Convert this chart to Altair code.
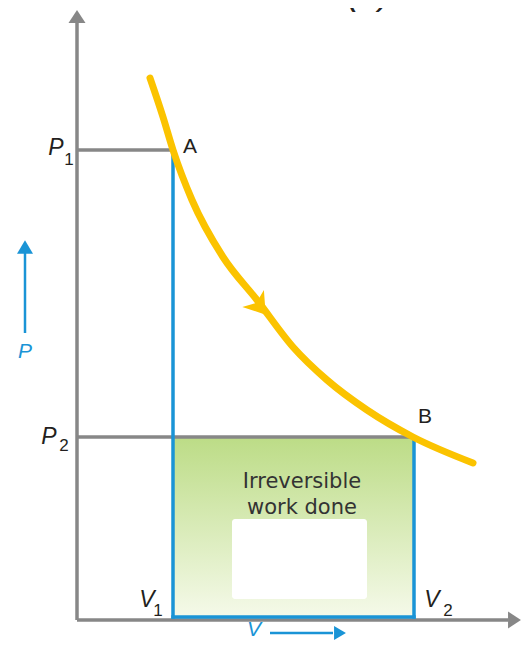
import altair as alt
import pandas as pd

# ---- data (units: arbitrary V and P, origin at axis corner) ----
V1, V2 = 9.6, 33.7
P1, P2 = 47.0, 18.3

curve_V = [7.3, 8.6, 9.6, 11.5, 14.6, 18.0, 21.6, 25.0, 29.0, 33.6, 39.6]
curve_P = [54.2, 50.3, 47.0, 42.0, 36.3, 32.0, 27.3, 24.0, 21.0, 18.3, 15.7]

W, H = 513, 633
XDOM = [-6.9, 44.4]
YDOM = [-2.1, 61.2]

xs = alt.Scale(domain=XDOM, nice=False, zero=False)
ys = alt.Scale(domain=YDOM, nice=False, zero=False)

GRAY = "#878787"
BLUE = "#1a94d6"
YELLOW = "#fbc300"
DARK = "#231f20"
FONT = "Liberation Sans"


def X(f="x"):
    return alt.X(f"{f}:Q", scale=xs, axis=None)


def Y(f="y"):
    return alt.Y(f"{f}:Q", scale=ys, axis=None)


# green work area
area_df = pd.DataFrame({"x": [V1], "x2": [V2], "y": [P2], "y2": [0.0]})
grad = alt.Gradient(
    gradient="linear",
    stops=[alt.GradientStop(color="#bcdc86", offset=0),
           alt.GradientStop(color="#f6faeb", offset=1)],
    x1=0, x2=0, y1=0, y2=1,
)
green = alt.Chart(area_df).mark_rect(color=grad).encode(
    x=X(), x2="x2:Q", y=Y(), y2="y2:Q")

# white box inside
box_df = pd.DataFrame({"x": [15.5], "x2": [29.0], "y": [10.1], "y2": [2.1]})
white = alt.Chart(box_df).mark_rect(color="white", cornerRadius=3).encode(
    x=X(), x2="x2:Q", y=Y(), y2="y2:Q")

# gray axes and guide lines
gray_df = pd.DataFrame({
    "x": [0.0, 0.0, 0.0, 0.0],
    "x2": [0.0, 43.1, V1, V2],
    "y": [0.0, 0.0, P1, P2],
    "y2": [59.7, 0.0, P1, P2],
})
gray = alt.Chart(gray_df).mark_rule(color=GRAY, strokeWidth=3.5).encode(
    x=X(), x2="x2:Q", y=Y(), y2="y2:Q")

# blue boundary
blue_df = pd.DataFrame({
    "x": [V1, V2, V1],
    "x2": [V1, V2, V2],
    "y": [P1, P2, 0.3],
    "y2": [0.3, 0.3, 0.3],
})
blue = alt.Chart(blue_df).mark_rule(color=BLUE, strokeWidth=3.5, strokeCap="square").encode(
    x=X(), x2="x2:Q", y=Y(), y2="y2:Q")

# yellow isotherm curve
curve_df = pd.DataFrame({"x": curve_V, "y": curve_P})
curve = alt.Chart(curve_df).mark_line(
    color=YELLOW, strokeWidth=7, interpolate="monotone", strokeCap="round"
).encode(x=X(), y=Y())

# arrowheads
UP = "M0,-0.76L1,0.76L-1,0.76Z"
arr_gray_df = pd.DataFrame({"x": [0.0, 43.75], "y": [60.35, 0.0], "a": [0, 90]})
arr_gray = alt.Chart(arr_gray_df).mark_point(
    shape=UP, filled=True, opacity=1, color=GRAY, size=289, strokeWidth=0
).encode(x=X(), y=Y(), angle=alt.Angle("a:Q", scale=None))

# blue P / V direction arrows
blue_line_df = pd.DataFrame({
    "x": [-5.2, 19.3], "x2": [-5.2, 25.6],
    "y": [28.7, -1.3], "y2": [36.7, -1.3],
})
blue_lines = alt.Chart(blue_line_df).mark_rule(color=BLUE, strokeWidth=2.5).encode(
    x=X(), x2="x2:Q", y=Y(), y2="y2:Q")
arr_blue_df = pd.DataFrame({"x": [-5.2, 26.3], "y": [37.3, -1.3],
                            "a": [0, 90], "s": [256, 196]})
arr_blue = alt.Chart(arr_blue_df).mark_point(
    shape="M0,-0.85L1,0.85L-1,0.85Z", filled=True, opacity=1, color=BLUE, strokeWidth=0
).encode(x=X(), y=Y(), angle=alt.Angle("a:Q", scale=None),
         size=alt.Size("s:Q", scale=None))

# arrowhead on curve
arr_y_df = pd.DataFrame({"x": [18.2], "y": [31.4], "a": [142]})
arr_y = alt.Chart(arr_y_df).mark_point(
    shape="M0,-0.8L1,0.7L0,0.3L-1,0.7Z", filled=True, opacity=1, color=YELLOW,
    size=750, strokeWidth=0
).encode(x=X(), y=Y(), angle=alt.Angle("a:Q", scale=None))

# text labels
main_lab = pd.DataFrame({
    "x": [-2.1, -2.8, 7.0, 35.5],
    "y": [47.2, 18.3, 2.0, 2.0],
    "t": ["P", "P", "V", "V"],
})
main_txt = alt.Chart(main_lab).mark_text(
    font=FONT, fontSize=23, fontStyle="italic", color=DARK, baseline="middle", align="center"
).encode(x=X(), y=Y(), text="t:N")

sub_lab = pd.DataFrame({
    "x": [-0.8, -1.3, 8.1, 37.1],
    "y": [46.0, 17.4, 0.9, 0.9],
    "t": ["1", "2", "1", "2"],
})
sub_txt = alt.Chart(sub_lab).mark_text(
    font=FONT, fontSize=17, color=DARK, baseline="middle", align="center"
).encode(x=X(), y=Y(), text="t:N")

pt_lab = pd.DataFrame({"x": [11.3, 34.8], "y": [47.3, 20.3], "t": ["A", "B"]})
pt_txt = alt.Chart(pt_lab).mark_text(
    font=FONT, fontSize=21, color=DARK, baseline="middle", align="center"
).encode(x=X(), y=Y(), text="t:N")

dir_lab = pd.DataFrame({"x": [-5.2, 17.7], "y": [26.8, -0.95], "t": ["P", "V"]})
dir_txt = alt.Chart(dir_lab).mark_text(
    font=FONT, fontSize=21, fontStyle="italic", color=BLUE, baseline="middle", align="center"
).encode(x=X(), y=Y(), text="t:N")

work_lab = pd.DataFrame({"x": [22.5, 22.5], "y": [13.8, 11.2],
                         "t": ["Irreversible", "work done"]})
work_txt = alt.Chart(work_lab).mark_text(
    font="DejaVu Sans", fontSize=21, color="#333333", baseline="middle", align="center"
).encode(x=X(), y=Y(), text="t:N")

title_lab = pd.DataFrame({"x": [29.2], "y": [60.8], "t": ["(a)"]})
title_txt = alt.Chart(title_lab).mark_text(
    font=FONT, fontSize=36, fontStyle="italic", color=DARK, baseline="bottom", align="center"
).encode(x=X(), y=Y(), text="t:N")

chart = alt.layer(
    green, white, gray, blue, curve, arr_gray, blue_lines, arr_blue, arr_y,
    main_txt, sub_txt, pt_txt, dir_txt, work_txt, title_txt
).properties(
    width=W, height=H, padding=0, autosize=alt.AutoSizeParams(type="none")
).configure_view(stroke=None)

chart.save("out.html", embed_options={"renderer": "svg", "actions": False})
